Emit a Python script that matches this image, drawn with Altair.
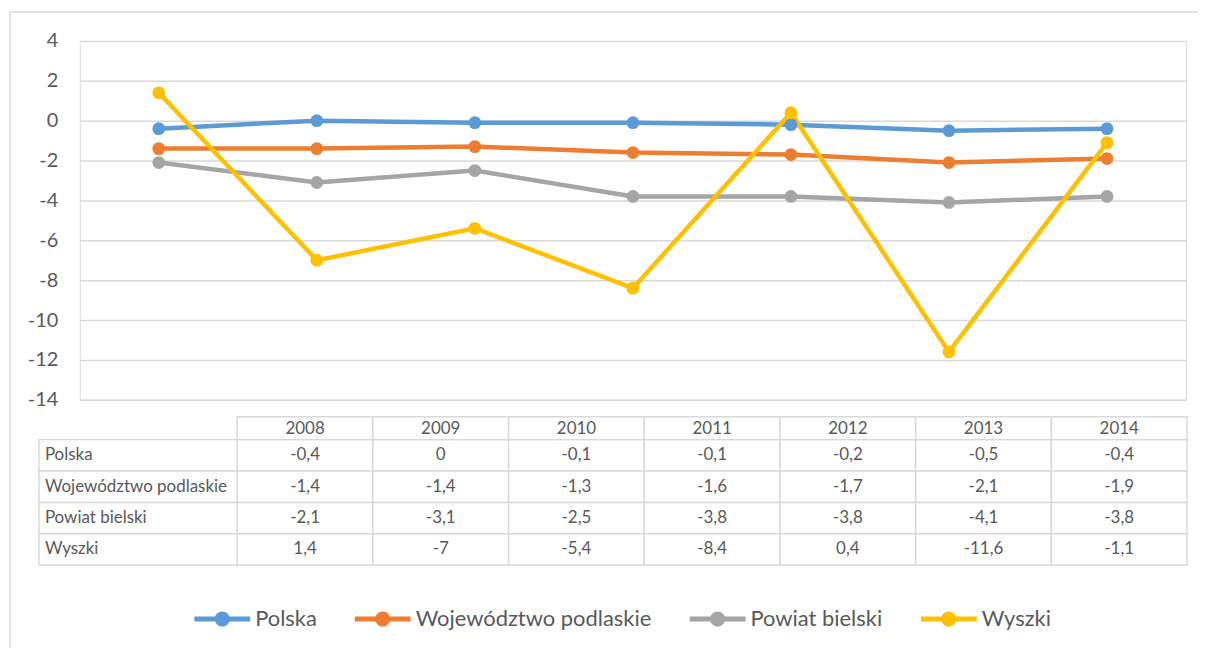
import altair as alt
import pandas as pd

years = ["2008", "2009", "2010", "2011", "2012", "2013", "2014"]
series = ["Polska", "Województwo podlaskie", "Powiat bielski", "Wyszki"]
polska = [-0.4, 0, -0.1, -0.1, -0.2, -0.5, -0.4]
podlaskie = [-1.4, -1.4, -1.3, -1.6, -1.7, -2.1, -1.9]
bielski = [-2.1, -3.1, -2.5, -3.8, -3.8, -4.1, -3.8]
wyszki = [1.4, -7, -5.4, -8.4, 0.4, -11.6, -1.1]
colors = ["#5B9BD5", "#ED7D31", "#A5A5A5", "#FFC000"]
y_ticks = [-14, -12, -10, -8, -6, -4, -2, 0, 2, 4]


def fmt(v):
    if float(v).is_integer():
        return str(int(v))
    return str(v).replace(".", ",")


rows = []
for s, vals in zip(series, [polska, podlaskie, bielski, wyszki]):
    for yr, v in zip(years, vals):
        rows.append({"series": s, "year": yr, "value": v, "label": fmt(v)})
df = pd.DataFrame(rows)
df_years = pd.DataFrame({"year": years})
df_series = pd.DataFrame({"series": series})

FONT = "Lato"
TXT = "#595959"
GRID = "#d9d9d9"

# ---- line chart ----
xs = alt.X("year:O", scale=alt.Scale(type="point", padding=0.5, domain=years), axis=None)
ys = alt.Y(
    "value:Q",
    scale=alt.Scale(domain=[-14, 4], nice=False, zero=False),
    axis=alt.Axis(
        values=y_ticks, title=None, domain=False, ticks=False, labelPadding=22,
        labelFontSize=20, labelColor=TXT, labelFont=FONT, gridColor=GRID, gridWidth=1.5,
        labelExpr="datum.value + ''",
    ),
)
cscale = alt.Scale(domain=series, range=colors)
legend_path = ("M-1,-0.09 L1,-0.09 L1,0.09 L-1,0.09 Z "
               "M0.27,0 A0.27,0.27 0 1,1 -0.27,0 A0.27,0.27 0 1,1 0.27,0 Z")
leg = alt.Legend(
    title=None, orient="none", direction="horizontal", legendX=115, legendY=552,
    symbolType=legend_path, symbolSize=3136, symbolStrokeWidth=0,
    labelFontSize=22, labelFont=FONT, labelColor=TXT, labelOffset=5, labelLimit=0,
    columnPadding=38, symbolOpacity=1,
)
color = alt.Color("series:N", scale=cscale, legend=leg)

lines = alt.Chart(df).mark_line(strokeWidth=4.5).encode(x=xs, y=ys, color=color)
points = alt.Chart(df).mark_point(filled=True, size=165, opacity=1).encode(x=xs, y=ys, color=color)
main = alt.layer(lines, points)

# ---- data table ----
tx = alt.X("year:N", scale=alt.Scale(type="band", domain=years, range=[158, 1111],
                                     paddingInner=0, paddingOuter=0), axis=None)
ty = alt.Y("series:N", scale=alt.Scale(type="band", domain=series, range=[400, 526],
                                       paddingInner=0, paddingOuter=0), axis=None)

cell_rect = alt.Chart(df).mark_rect(fill="white", stroke=GRID, strokeWidth=1.5).encode(x=tx, y=ty)
cell_text = alt.Chart(df).mark_text(fontSize=17, font=FONT, color=TXT, baseline="middle").encode(
    x=tx, y=ty, text="label:N")
hdr_rect = alt.Chart(df_years).mark_rect(fill="white", stroke=GRID, strokeWidth=1.5).encode(
    x=tx, y=alt.value(377), y2=alt.value(400))
hdr_text = alt.Chart(df_years).mark_text(fontSize=17, font=FONT, color=TXT, baseline="middle").encode(
    x=tx, y=alt.value(389), text="year:N")
row_rect = alt.Chart(df_series).mark_rect(fill="white", stroke=GRID, strokeWidth=1.5).encode(
    x=alt.value(-41), x2=alt.value(158), y=ty)
row_text = alt.Chart(df_series).mark_text(fontSize=17, font=FONT, color=TXT, baseline="middle",
                                          align="left").encode(
    x=alt.value(-35), y=ty, text="series:N")
table = alt.layer(cell_rect, hdr_rect, row_rect, cell_text, hdr_text, row_text)

border = alt.Chart(pd.DataFrame({"a": [0]})).mark_rect(
    fillOpacity=0, stroke=GRID, strokeWidth=1.5).encode(
    x=alt.value(-70), x2=alt.value(1300), y=alt.value(-29), y2=alt.value(800))

chart = alt.layer(border, main, table).resolve_scale(
    x="independent", y="independent", color="shared"
).properties(
    width=1110, height=360,
    autosize=alt.AutoSizeParams(type="none"),
    padding={"left": 72, "top": 32, "right": 12, "bottom": 248},
).configure_view(stroke=None).configure(font=FONT)

chart.save("out.html", embed_options={"renderer": "svg", "actions": False})
